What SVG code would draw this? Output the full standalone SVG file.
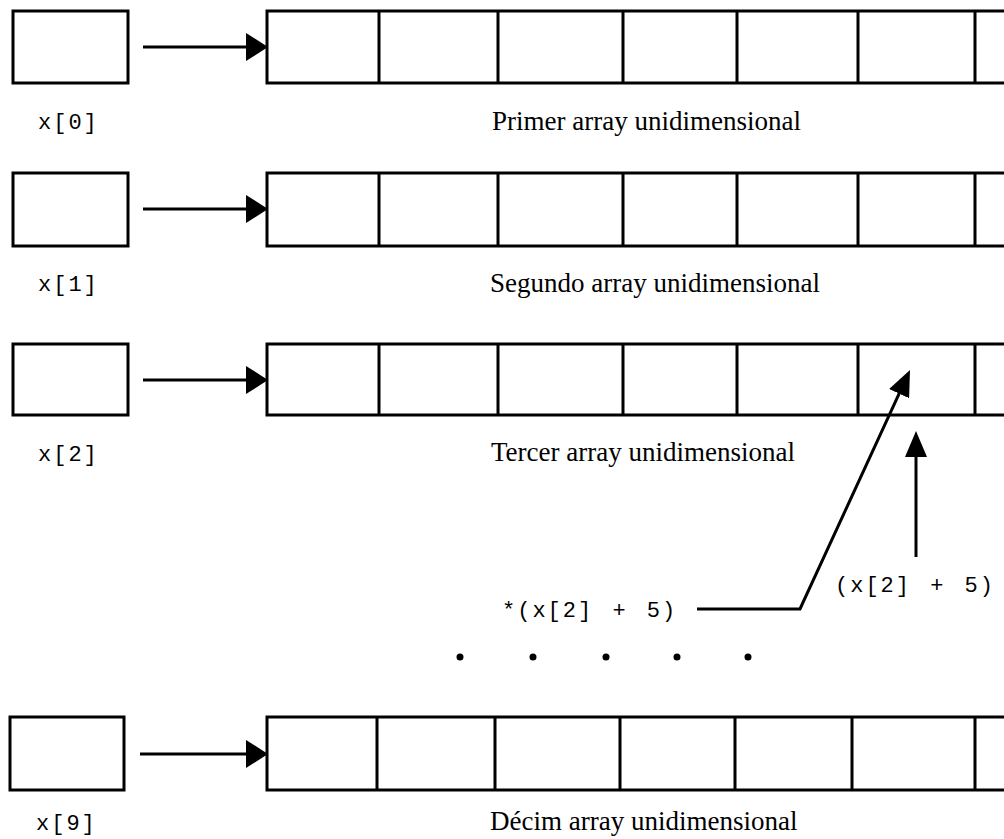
<svg xmlns="http://www.w3.org/2000/svg" width="1004" height="839" viewBox="0 0 1004 839">
<style>
.box{fill:#fff;stroke:#000;stroke-width:3}
.div{stroke:#000;stroke-width:3}
.ln{fill:none;stroke:#000;stroke-width:3}
.mono{font-family:"Liberation Mono","DejaVu Sans Mono",monospace;font-size:22px;letter-spacing:2px;word-spacing:4px;fill:#000}
.serif{font-family:"Liberation Serif","Times New Roman",serif;font-size:27px;fill:#000}
.dot{fill:#000}
</style>
<defs>
<marker id="ah" viewBox="0 0 22 28" refX="12" refY="14" markerWidth="22" markerHeight="28" markerUnits="userSpaceOnUse" orient="auto">
<path d="M0,0 L22,14 L0,28 Z" fill="#000"/>
</marker>
<marker id="ah2" viewBox="0 0 26 22" refX="16" refY="11" markerWidth="26" markerHeight="22" markerUnits="userSpaceOnUse" orient="auto">
<path d="M0,0 L26,11 L0,22 Z" fill="#000"/>
</marker>
</defs>
<rect width="1004" height="839" fill="#fff"/>

<g id="ptr0"><rect class="box" x="13" y="11" width="115" height="72"/><text class="mono" x="38" y="129">x[0]</text></g>
<g id="ptr1"><rect class="box" x="13" y="173" width="115" height="73"/><text class="mono" x="38" y="291">x[1]</text></g>
<g id="ptr2"><rect class="box" x="13" y="344" width="115" height="71"/><text class="mono" x="38" y="461">x[2]</text></g>
<g id="ptr9"><rect class="box" x="10" y="717" width="114" height="73"/><text class="mono" x="36" y="830">x[9]</text></g>

<g id="arr0"><rect class="box" x="267" y="11" width="745" height="72"/>
<path class="div" d="M379,11V83M498,11V83M623,11V83M737,11V83M858,11V83M975,11V83"/>
<text class="serif" x="492" y="130">Primer array unidimensional</text></g>
<g id="arr1"><rect class="box" x="267" y="173" width="745" height="73"/>
<path class="div" d="M379,173V246M498,173V246M623,173V246M737,173V246M858,173V246M975,173V246"/>
<text class="serif" x="490" y="292">Segundo array unidimensional</text></g>
<g id="arr2"><rect class="box" x="267" y="344" width="745" height="71"/>
<path class="div" d="M379,344V415M498,344V415M623,344V415M737,344V415M858,344V415M975,344V415"/>
<text class="serif" x="491" y="461">Tercer array unidimensional</text></g>
<g id="arr9"><rect class="box" x="267" y="717" width="745" height="73"/>
<path class="div" d="M377,717V790M495,717V790M620,717V790M735,717V790M852,717V790M975,717V790"/>
<text class="serif" x="490" y="830">Décim array unidimensional</text></g>

<g id="lbl-a"><text class="mono" x="502" y="617">*(x[2] + 5)</text></g>
<g id="lbl-b"><text class="mono" x="835" y="592">(x[2] + 5)</text></g>

<g id="dots">
<circle class="dot" cx="460" cy="657" r="3.5"/>
<circle class="dot" cx="533" cy="657" r="3.5"/>
<circle class="dot" cx="606" cy="657" r="3.5"/>
<circle class="dot" cx="677" cy="657" r="3.5"/>
<circle class="dot" cx="748" cy="657" r="3.5"/>
</g>

<g id="connectors">
<path class="ln" marker-end="url(#ah)" d="M143,47H258"/>
<path class="ln" marker-end="url(#ah)" d="M143,209H258"/>
<path class="ln" marker-end="url(#ah)" d="M143,380H258"/>
<path class="ln" marker-end="url(#ah)" d="M140,754H258"/>
<path class="ln" marker-end="url(#ah2)" d="M697,609H800L905.8,379.1"/>
<path class="ln" marker-end="url(#ah2)" d="M916,557V441"/>
</g>
</svg>
